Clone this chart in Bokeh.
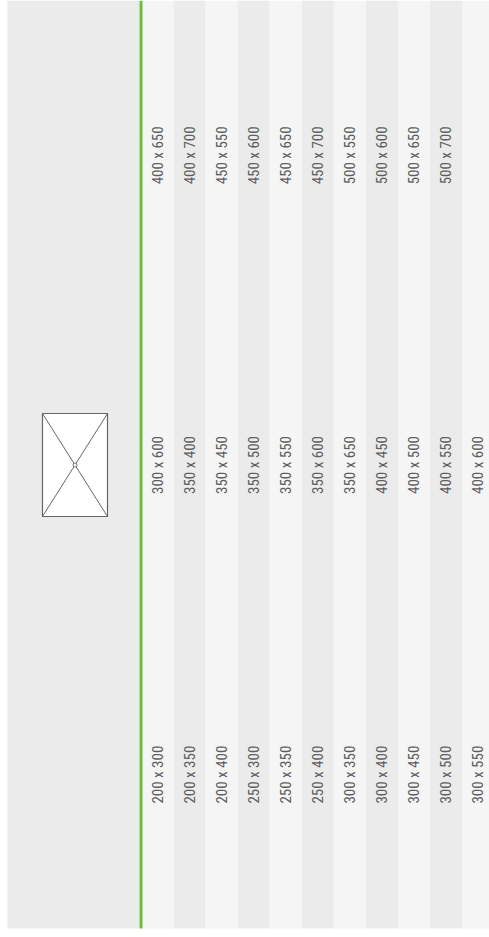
import numpy as np
from bokeh.plotting import figure
from bokeh.models import ColumnDataSource, Range1d
from bokeh.core.properties import value
from bokeh.embed import file_html
from bokeh.resources import INLINE

# ---- data ----
sizes_row1 = ["200 x 300", "200 x 350", "200 x 400", "250 x 300", "250 x 350", "250 x 400",
              "300 x 350", "300 x 400", "300 x 450", "300 x 500", "300 x 550"]
sizes_row2 = ["300 x 600", "350 x 400", "350 x 450", "350 x 500", "350 x 550", "350 x 600",
              "350 x 650", "400 x 450", "400 x 500", "400 x 550", "400 x 600"]
sizes_row3 = ["400 x 650", "400 x 700", "450 x 550", "450 x 600", "450 x 650", "450 x 700",
              "500 x 550", "500 x 600", "500 x 650", "500 x 700", ""]
rows = [sizes_row1, sizes_row2, sizes_row3]

n_cols = len(sizes_row1)
n_rows = len(rows)

W, H = 489, 929
col_px = 32.05          # pixel width of one striped column
first_col_px = 141      # pixels from figure's left edge to first striped column
panel_left_px = 7

x0 = -first_col_px / col_px
x1 = x0 + W / col_px
y0, y1 = 0.0, float(n_rows)
cell_px = H / n_rows

p = figure(width=W, height=H, x_range=Range1d(x0, x1), y_range=Range1d(y0, y1),
           output_backend="svg", toolbar_location=None, min_border=0)
p.axis.visible = False
p.grid.visible = False
p.outline_line_color = None
p.background_fill_color = "white"
p.border_fill_color = "white"

px = 1.0 / col_px
py = 1.0 / cell_px

# header panel (left)
p.quad(left=[x0 + panel_left_px * px], right=[-2 * px], bottom=[y0 + py], top=[y1],
       fill_color="#ebebeb", line_color=None)

# striped columns
cols = np.arange(n_cols)
stripe_colors = ["#f5f5f5" if i % 2 == 0 else "#ebebeb" for i in cols]
p.quad(left=cols, right=cols + 1, bottom=y0 + py, top=y1,
       fill_color=stripe_colors, line_color=None)

# green separator
p.quad(left=[-2 * px], right=[1 * px], bottom=[y0 + py], top=[y1],
       fill_color="#6cbf3a", line_color=None)

# size labels
xs, ys, labels = [], [], []
for r, row in enumerate(rows):
    for c, lab in enumerate(row):
        xs.append(c + 0.5)
        ys.append(r + 0.5)
        labels.append(lab)
src = ColumnDataSource(dict(x=xs, y=ys, text=labels))
p.text(x="x", y="y", text="text", source=src, angle=np.pi / 2,
       text_align="center", text_baseline="middle",
       text_font=value("'Roboto Condensed', 'Liberation Sans Narrow', Roboto"),
       text_font_size="15px", text_color="#5e5e5e")

# image placeholder in header panel
img_cx = x0 + 74.5 * px
img_cy = 1.5
img_w, img_h = 65, 103
p.rect(x=[img_cx], y=[img_cy], width=img_w, height=img_h,
       width_units="screen", height_units="screen",
       fill_color="white", line_color="#666666", line_width=1.2)
dx = (img_w / 2) * px
dy = (img_h / 2) * py
p.segment(x0=[img_cx - dx, img_cx - dx], y0=[img_cy + dy, img_cy - dy],
          x1=[img_cx + dx, img_cx + dx], y1=[img_cy - dy, img_cy + dy],
          line_color="#555555", line_width=0.9)
p.scatter(x=[img_cx], y=[img_cy], size=4, marker="circle",
          fill_color="white", line_color="#555555", line_width=0.8)

open("out.html", "w").write(file_html(p, INLINE))
